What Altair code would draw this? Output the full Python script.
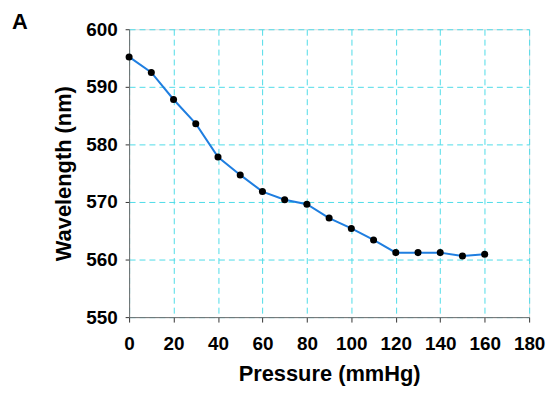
import altair as alt
import pandas as pd

pressure = [0, 10, 20, 30, 40, 50, 60, 70, 80, 90, 100, 110, 120, 130, 140, 150, 160]
wavelength = [595.2, 592.5, 587.8, 583.6, 577.8, 574.7, 571.8, 570.4, 569.6, 567.2,
              565.4, 563.4, 561.2, 561.2, 561.2, 560.6, 560.9]
x_ticks = [0, 20, 40, 60, 80, 100, 120, 140, 160, 180]
y_ticks = [550, 560, 570, 580, 590, 600]

df = pd.DataFrame({"p": pressure, "w": wavelength})

FONT = "Liberation Sans"
GRID = "#4fdce8"
AX = "#6e6e6e"
TICK = "#333333"

x = alt.X("p:Q", scale=alt.Scale(domain=[0, 180], nice=False),
          axis=alt.Axis(title="Pressure (mmHg)", values=x_ticks, format="d",
                        grid=True, gridColor=GRID, gridDash=[6, 4], gridWidth=1,
                        domainColor=AX, tickColor=TICK, tickSize=5, labelFlush=False,
                        labelFont=FONT, labelFontSize=19, labelFontWeight="bold",
                        labelColor="black", labelPadding=13,
                        titleFont=FONT, titleFontSize=22, titleFontWeight="bold",
                        titleColor="black", titlePadding=10))
y = alt.Y("w:Q", scale=alt.Scale(domain=[550, 600], nice=False, zero=False),
          axis=alt.Axis(title="Wavelength (nm)", values=y_ticks, format="d",
                        grid=True, gridColor=GRID, gridDash=[6, 4], gridWidth=1,
                        domainColor=AX, tickColor=TICK, tickSize=4, labelFlush=False,
                        labelFont=FONT, labelFontSize=19, labelFontWeight="bold",
                        labelColor="black", labelPadding=8,
                        titleFont=FONT, titleFontSize=22, titleFontWeight="bold",
                        titleColor="black", titlePadding=10))

line = alt.Chart(df).mark_line(color="#1f7ee0", strokeWidth=2).encode(x=x, y=y)
pts = alt.Chart(df).mark_circle(color="black", size=50, opacity=1).encode(x=x, y=y)

label = alt.Chart(pd.DataFrame({"t": ["A"]})).mark_text(
    font=FONT, fontSize=22, fontWeight="bold", color="black", align="center", baseline="alphabetic"
).encode(text="t:N", x=alt.value(-110), y=alt.value(0))

chart = (line + pts + label).properties(
    width=403, height=290,
    autosize=alt.AutoSizeParams(type="none"),
    padding={"left": 122, "top": 20, "right": 18, "bottom": 70},
).configure_view(stroke="#9a9a9a", strokeWidth=1).configure(background="white")

chart.save("out.html", embed_options={"renderer": "svg", "actions": False})
